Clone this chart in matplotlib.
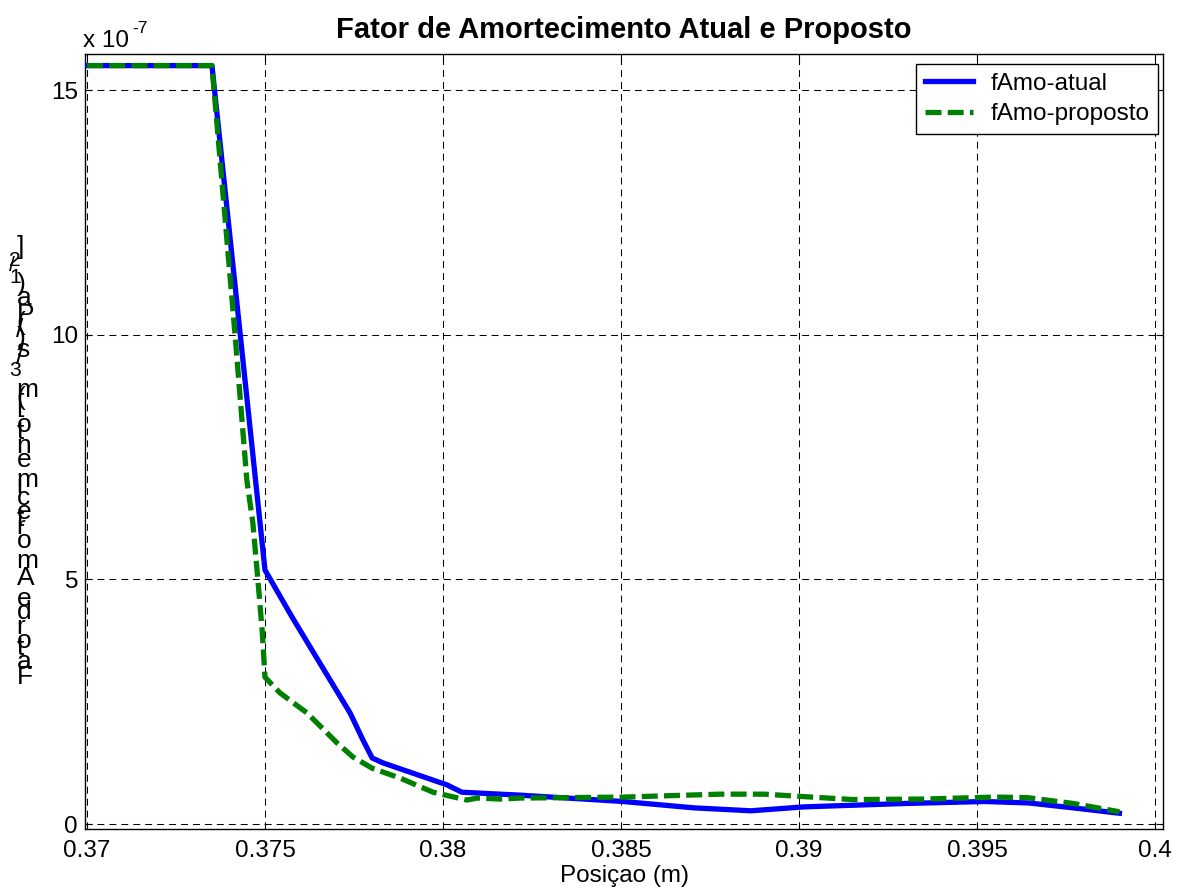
import matplotlib
matplotlib.use("Agg")
import matplotlib.pyplot as plt
from matplotlib import font_manager
from matplotlib.ft2font import FT2Font

# ---- data (damping factor in units of 1e-7) ----
pos_atual = [0.3700, 0.37351, 0.3750, 0.37576, 0.37654, 0.37739, 0.37775,
             0.37801, 0.37831, 0.38011, 0.38053, 0.3816, 0.38216, 0.38506,
             0.38705, 0.38865, 0.39014, 0.3930, 0.39522, 0.39646, 0.3977,
             0.3990]
fAmo_atual = [15.5, 15.5, 5.19, 4.23, 3.29, 2.27, 1.72,
              1.35, 1.25, 0.80, 0.65, 0.61, 0.59, 0.46,
              0.33, 0.27, 0.35, 0.42, 0.46, 0.43, 0.33,
              0.22]

pos_proposto = [0.3700, 0.37351, 0.37416, 0.37449, 0.37466, 0.3748, 0.37492,
                0.3750, 0.37542, 0.37618, 0.37702, 0.37747, 0.37801, 0.37879,
                0.37972, 0.38067, 0.38096, 0.3816, 0.38216, 0.38506, 0.38778,
                0.38902, 0.39014, 0.3915, 0.3935, 0.3955, 0.3964, 0.3977, 0.3990]
fAmo_proposto = [15.5, 15.5, 9.99, 7.03, 6.15, 4.99, 3.96,
                 3.0, 2.68, 2.27, 1.66, 1.37, 1.14, 0.94,
                 0.65, 0.49, 0.53, 0.51, 0.53, 0.55, 0.61,
                 0.61, 0.56, 0.50, 0.51, 0.55, 0.54, 0.42, 0.25]

x_ticks = [0.37, 0.375, 0.38, 0.385, 0.39, 0.395, 0.4]
x_ticklabels = ["0.37", "0.375", "0.38", "0.385", "0.39", "0.395", "0.4"]
y_ticks = [0, 5, 10, 15]
y_ticklabels = ["0", "5", "10", "15"]
series_labels = ["fAmo-atual", "fAmo-proposto"]
title = "Fator de Amortecimento Atual e Proposto"
xlabel = "Posiçao (m)"
ylabel_parts = [("Fator de Amortecimento [(m", False), ("3", True),
                ("/s)/(Pa)", False), ("1/2", True), ("]", False)]

FONT = "Liberation Sans"
FS = 17.5
W, H = 1179, 891

plt.rcParams["font.family"] = [FONT, "DejaVu Sans"]
plt.rcParams["lines.scale_dashes"] = False

fig = plt.figure(figsize=(W / 100, H / 100), dpi=100)
fig.patch.set_facecolor("white")

L, R, T, B = 85, 1163, 54, 829
ax = fig.add_axes([L / W, 1 - B / H, (R - L) / W, (B - T) / H])

ax.plot(pos_atual, fAmo_atual, color="#0000ff", lw=3.8, solid_joinstyle="round",
        label=series_labels[0], zorder=3)
ax.plot(pos_proposto, fAmo_proposto, color="#008000", lw=3.8,
        linestyle=(0, (11.5, 4.5)), label=series_labels[1], zorder=4)

ax.set_xlim(0.369944, 0.400225)
ax.set_ylim(-0.102, 15.737)
ax.set_xticks(x_ticks)
ax.set_xticklabels(x_ticklabels)
ax.set_yticks(y_ticks)
ax.set_yticklabels(y_ticklabels)

ax.grid(True, color="black", lw=0.75, linestyle=(0, (5, 3.6)))
ax.tick_params(direction="in", length=5, width=0.8, top=True, right=True,
               labelsize=FS, colors="black")
ax.tick_params(axis="x", pad=8)
ax.tick_params(axis="y", pad=5)
for sp in ax.spines.values():
    sp.set_linewidth(1.0)
    sp.set_color("black")


def px(x, y):
    return x / W, 1 - y / H


# title and x label
fig.text(*px(624, 38), title, ha="center", va="baseline",
         fontsize=21, fontweight="bold")
fig.text(*px(624, 882), xlabel, ha="center", va="baseline", fontsize=FS)

# exponent note above the y axis
fig.text(*px(83, 47), "x 10", ha="left", va="baseline", fontsize=FS)
fig.text(*px(132, 33), "-7", ha="left", va="baseline", fontsize=FS * 0.72)

# y label drawn glyph by glyph, stacked upward
fpath = font_manager.findfont(font_manager.FontProperties(family=FONT))
ft = FT2Font(fpath)
GLYPH_FS = 19
adv_em = 17.8 * 100 / 72


def advance(ch, size_px):
    ft.set_size(size_px, 72)
    g = ft.load_char(ord(ch))
    return g.linearHoriAdvance / 65536


ybase = 684.0
for text, sup in ylabel_parts:
    for ch in text:
        if sup:
            fig.text(*px(9, ybase), ch, ha="left", va="baseline",
                     fontsize=GLYPH_FS * 0.8)
            ybase -= advance(ch, adv_em * 0.85)
        else:
            if ch != " ":
                fig.text(*px(16.5, ybase), ch, ha="left", va="baseline",
                         fontsize=GLYPH_FS)
            ybase -= advance(ch, adv_em)

leg = ax.legend(loc="upper right", bbox_to_anchor=(1158 / W, 1 - 64 / H),
                bbox_transform=fig.transFigure, fontsize=FS, frameon=True,
                fancybox=False, edgecolor="black", framealpha=1,
                handlelength=2.0, handletextpad=0.7, borderpad=0.35,
                labelspacing=0.35, borderaxespad=0)
leg.get_frame().set_linewidth(1.0)

fig.savefig("out.png", dpi=100)
